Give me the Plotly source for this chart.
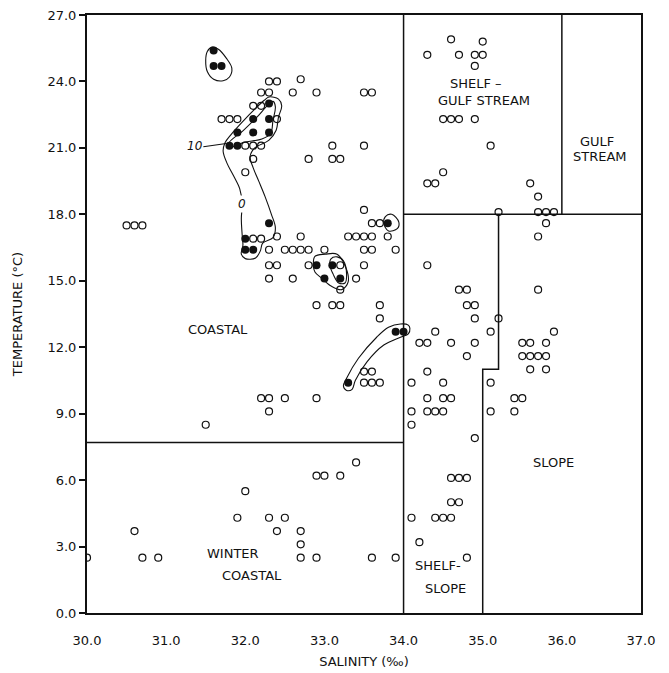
import plotly.graph_objects as go

# ---- station observations: salinity (per mille) and temperature (deg C) ----
open_sal = [
    32.3, 32.4, 32.7,
    32.2, 32.3, 32.6, 32.9, 33.5, 33.6,
    32.1, 32.2,
    31.7, 31.8, 31.9, 32.4,
    32.0, 32.1, 32.2, 33.1, 33.5,
    32.1, 32.8, 33.1, 33.2,
    32.0,
    30.5, 30.6, 30.7,
    33.5,
    33.6, 33.7,
    32.1, 32.2,
    32.4, 32.7, 33.3, 33.4, 33.5, 33.6, 33.8,
    32.3, 32.5, 32.6, 32.7, 32.8, 33.0, 33.5, 33.6, 33.9,
    32.3, 32.4, 32.8, 33.2, 33.5,
    32.3, 32.6, 33.4,
    33.2,
    32.9, 33.1, 33.2, 33.7,
    33.7,
    33.5, 33.6,
    33.5, 33.6, 33.7,
    32.2, 32.3, 32.5, 32.9,
    32.3,
    31.5,
    30.0, 30.6, 30.7, 30.9,
    31.9, 32.0, 32.3, 32.5, 32.4, 32.7, 32.7, 32.7, 32.9,
    32.9, 33.0, 33.2, 33.4,
    33.6, 33.9,
    34.6, 35.0, 34.3, 34.7, 34.9, 35.0, 34.9,
    34.5, 34.6, 34.7, 34.9,
    35.1,
    34.5,
    34.3, 34.4,
    35.6, 35.7,
    35.2, 35.7, 35.8, 35.9,
    35.8, 35.7,
    34.3,
    34.7, 34.8, 35.7,
    34.8, 34.9,
    34.9, 35.2,
    34.4, 35.1, 35.9,
    34.2, 34.3, 34.6, 34.9, 35.5, 35.6, 35.8,
    34.8, 35.5, 35.6, 35.7, 35.8,
    34.3, 35.6, 35.8,
    34.1, 34.5, 35.1,
    34.3, 34.5, 34.6, 35.4, 35.5,
    34.1, 34.3, 34.4, 34.5, 35.1, 35.4,
    34.1,
    34.9,
    34.6, 34.7, 34.8,
    34.6, 34.7,
    34.1, 34.4, 34.5, 34.6,
    34.2,
    34.8,
]
open_temp = [
    24.0, 24.0, 24.1,
    23.5, 23.5, 23.5, 23.5, 23.5, 23.5,
    22.9, 22.9,
    22.3, 22.3, 22.3, 22.3,
    21.1, 21.1, 21.1, 21.1, 21.1,
    20.5, 20.5, 20.5, 20.5,
    19.9,
    17.5, 17.5, 17.5,
    18.2,
    17.6, 17.6,
    16.9, 16.9,
    17.0, 17.0, 17.0, 17.0, 17.0, 17.0, 17.0,
    16.4, 16.4, 16.4, 16.4, 16.4, 16.4, 16.4, 16.4, 16.4,
    15.7, 15.7, 15.7, 15.7, 15.7,
    15.1, 15.1, 15.1,
    14.6,
    13.9, 13.9, 13.9, 13.9,
    13.3,
    10.9, 10.9,
    10.4, 10.4, 10.4,
    9.7, 9.7, 9.7, 9.7,
    9.1,
    8.5,
    2.5, 3.7, 2.5, 2.5,
    4.3, 5.5, 4.3, 4.3, 3.7, 3.7, 3.1, 2.5, 2.5,
    6.2, 6.2, 6.2, 6.8,
    2.5, 2.5,
    25.9, 25.8, 25.2, 25.2, 25.2, 25.2, 24.7,
    22.3, 22.3, 22.3, 22.3,
    21.1,
    19.9,
    19.4, 19.4,
    19.4, 18.8,
    18.1, 18.1, 18.1, 18.1,
    17.6, 17.0,
    15.7,
    14.6, 14.6, 14.6,
    13.9, 13.9,
    13.3, 13.3,
    12.7, 12.7, 12.7,
    12.2, 12.2, 12.2, 12.2, 12.2, 12.2, 12.2,
    11.6, 11.6, 11.6, 11.6, 11.6,
    10.9, 11.0, 11.0,
    10.4, 10.4, 10.4,
    9.7, 9.7, 9.7, 9.7, 9.7,
    9.1, 9.1, 9.1, 9.1, 9.1, 9.1,
    8.5,
    7.9,
    6.1, 6.1, 6.1,
    5.0, 5.0,
    4.3, 4.3, 4.3, 4.3,
    3.2,
    2.5,
]

filled_sal = [31.6, 31.6, 31.7, 32.3, 32.1, 32.3, 31.9, 32.1, 32.3, 31.8, 31.9,
              32.3, 32.0, 32.0, 32.1, 32.9, 33.1, 33.0, 33.2, 33.8, 33.9, 34.0, 33.3]
filled_temp = [25.4, 24.7, 24.7, 23.0, 22.3, 22.3, 21.7, 21.7, 21.7, 21.1, 21.1,
               17.6, 16.9, 16.4, 16.4, 15.7, 15.7, 15.1, 15.1, 17.6, 12.7, 12.7, 10.4]

# ---- water-mass boundaries ----
coastal_split_temp = 7.7
shelf_edge_sal = 34.0
gulf_floor_temp = 18.0
gulf_edge_sal = 36.0
slope_sal = [35.2, 35.2, 35.0, 35.0]
slope_temp = [18.0, 11.0, 11.0, 0.0]

# ---- hand-drawn contour outlines (salinity, temperature vertices) ----
outline_top_sal = [31.58, 31.66, 31.76, 31.83, 31.80, 31.72, 31.60, 31.52, 31.50, 31.52, 31.58]
outline_top_temp = [25.55, 25.45, 25.05, 24.6, 24.2, 24.03, 24.1, 24.45, 24.95, 25.35, 25.55]

contour0_sal = [32.30, 32.42, 32.46, 32.42, 32.39, 32.30, 32.12, 32.06, 32.10, 32.17, 32.25,
                32.33, 32.38, 32.35, 32.22, 32.19, 32.13, 32.00, 31.95, 31.97, 31.96, 31.95,
                31.96, 31.93, 31.85, 31.77, 31.72, 31.74, 31.82, 31.97, 32.12, 32.24, 32.30]
contour0_temp = [23.3, 23.2, 22.9, 22.4, 21.8, 21.35, 21.0, 20.6, 20.1, 19.5, 18.8,
                 18.0, 17.4, 16.95, 16.7, 16.35, 16.03, 16.0, 16.2, 16.6, 17.1, 17.8,
                 18.5, 19.15, 19.75, 20.3, 20.85, 21.2, 21.6, 22.2, 22.75, 23.15, 23.3]

contour10_sal = [31.79, 31.98, 32.15, 32.29, 32.35, 32.38, 32.35, 32.32, 32.21, 31.98, 31.83, 31.79]
contour10_temp = [21.2, 21.8, 22.4, 22.95, 23.1, 22.85, 22.25, 21.65, 21.4, 21.25, 21.05, 21.2]

outline_mid_sal = [33.77, 33.85, 33.94, 33.92, 33.81, 33.75, 33.77]
outline_mid_temp = [17.9, 18.0, 17.65, 17.35, 17.25, 17.6, 17.9]

outline_pair_outer_sal = [32.88, 33.01, 33.16, 33.27, 33.30, 33.22, 33.09, 32.97, 32.88, 32.86, 32.88]
outline_pair_outer_temp = [16.1, 16.2, 16.2, 15.6, 14.95, 14.6, 14.75, 15.1, 15.4, 15.7, 16.1]

outline_pair_inner_sal = [33.08, 33.16, 33.24, 33.28, 33.26, 33.18, 33.11, 33.07, 33.08]
outline_pair_inner_temp = [15.98, 16.08, 15.9, 15.3, 14.9, 14.9, 15.3, 15.68, 15.98]

outline_low_sal = [33.24, 33.28, 33.43, 33.66, 33.81, 33.96, 34.06, 34.08, 34.06, 33.96,
                   33.75, 33.54, 33.39, 33.35, 33.28, 33.24]
outline_low_temp = [10.25, 10.6, 11.5, 12.45, 12.9, 13.05, 13.0, 12.85, 12.6, 12.45,
                    12.1, 11.35, 10.5, 10.1, 10.05, 10.25]

# ---- region labels ----
region_text = ["COASTAL", "WINTER", "COASTAL", "SHELF –", "GULF STREAM", "GULF", "STREAM",
               "SLOPE", "SHELF-", "SLOPE"]
region_sal = [31.66, 31.84, 32.09, 34.92, 35.02, 36.44, 36.48, 35.90, 34.43, 34.53]
region_temp = [12.8, 2.7, 1.7, 23.9, 23.15, 21.3, 20.6, 6.8, 2.15, 1.1]

FONT = "DejaVu Sans"
INK = "#111111"

fig = go.Figure()

# boundaries
fig.add_trace(go.Scatter(x=[30.0, shelf_edge_sal], y=[coastal_split_temp, coastal_split_temp],
                         mode="lines", line=dict(color=INK, width=1.5), hoverinfo="skip"))
fig.add_trace(go.Scatter(x=[shelf_edge_sal, shelf_edge_sal], y=[0, 27],
                         mode="lines", line=dict(color=INK, width=1.5), hoverinfo="skip"))
fig.add_trace(go.Scatter(x=[shelf_edge_sal, 37.0], y=[gulf_floor_temp, gulf_floor_temp],
                         mode="lines", line=dict(color=INK, width=1.5), hoverinfo="skip"))
fig.add_trace(go.Scatter(x=[gulf_edge_sal, gulf_edge_sal], y=[gulf_floor_temp, 27],
                         mode="lines", line=dict(color=INK, width=1.5), hoverinfo="skip"))
fig.add_trace(go.Scatter(x=slope_sal, y=slope_temp,
                         mode="lines", line=dict(color=INK, width=1.5), hoverinfo="skip"))

# contour outlines
for xs, ys in [(outline_top_sal, outline_top_temp), (contour0_sal, contour0_temp),
               (contour10_sal, contour10_temp), (outline_mid_sal, outline_mid_temp),
               (outline_pair_outer_sal, outline_pair_outer_temp),
               (outline_pair_inner_sal, outline_pair_inner_temp),
               (outline_low_sal, outline_low_temp)]:
    fig.add_trace(go.Scatter(x=xs, y=ys, mode="lines",
                             line=dict(color=INK, width=1.1, shape="spline", smoothing=1.0),
                             hoverinfo="skip"))

# pointer from the "10" contour label
fig.add_trace(go.Scatter(x=[31.47, 31.76], y=[21.05, 21.2], mode="lines",
                         line=dict(color=INK, width=1.1), hoverinfo="skip"))

# stations
fig.add_trace(go.Scatter(x=open_sal, y=open_temp, mode="markers",
                         marker=dict(symbol="circle-open", size=7, color=INK,
                                     line=dict(width=1.2, color=INK))))
fig.add_trace(go.Scatter(x=filled_sal, y=filled_temp, mode="markers",
                         marker=dict(symbol="circle", size=8, color=INK)))

for txt, sx, ty in zip(region_text, region_sal, region_temp):
    fig.add_annotation(x=sx, y=ty, text=txt, showarrow=False,
                       font=dict(family=FONT, size=13, color=INK))

fig.add_annotation(x=31.36, y=21.1, text="<i>10</i>", showarrow=False,
                   font=dict(family=FONT, size=12, color=INK))
fig.add_annotation(x=31.96, y=18.45, text="<i>0</i>", showarrow=False, bgcolor="white",
                   font=dict(family=FONT, size=12, color=INK))

fig.update_layout(
    width=669, height=673,
    margin=dict(l=87, r=28, t=15, b=60),
    paper_bgcolor="white", plot_bgcolor="white",
    showlegend=False,
    font=dict(family=FONT, size=13, color=INK),
)
fig.update_xaxes(
    range=[30, 37], tickvals=[30, 31, 32, 33, 34, 35, 36, 37],
    ticktext=["30.0", "31.0", "32.0", "33.0", "34.0", "35.0", "36.0", "37.0"],
    tickfont=dict(family=FONT, size=13, color=INK),
    showgrid=False, zeroline=False, showline=True, linewidth=2, linecolor=INK, mirror=True,
    ticks="", ticklabelstandoff=14, automargin=False,
    title=dict(text="SALINITY (‰)", font=dict(family=FONT, size=13, color=INK), standoff=10),
)
fig.update_yaxes(
    range=[0, 27], tickvals=[0, 3, 6, 9, 12, 15, 18, 21, 24, 27],
    ticktext=["0.0", "3.0", "6.0", "9.0", "12.0", "15.0", "18.0", "21.0", "24.0", "27.0"],
    tickfont=dict(family=FONT, size=13, color=INK),
    showgrid=False, zeroline=False, showline=True, linewidth=2, linecolor=INK, mirror=True,
    ticks="outside", ticklen=6, tickwidth=1.5, tickcolor=INK, automargin=False,
    title=dict(text="TEMPERATURE (°C)", font=dict(family=FONT, size=13, color=INK), standoff=22),
)

fig.write_html("out.html")
